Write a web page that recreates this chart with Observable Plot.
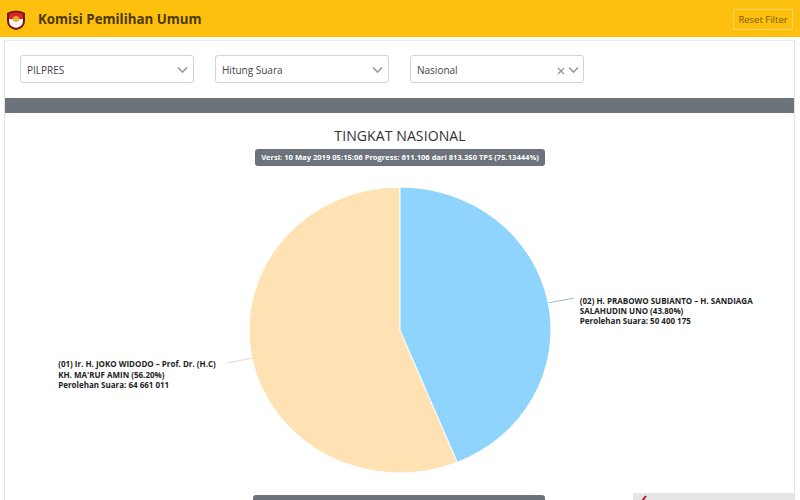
<!DOCTYPE html>
<html>
<head>
<meta charset="utf-8">
<script src="https://cdn.jsdelivr.net/npm/d3@7"></script>
<script src="https://cdn.jsdelivr.net/npm/@observablehq/plot@0.6"></script>
<style>
  html, body { margin: 0; padding: 0; background: #fff; }
  body { width: 800px; height: 500px; overflow: hidden; position: relative; font-family: "Open Sans", sans-serif; }
  .abs { position: absolute; }
  #header { left: 0; top: 0; width: 800px; height: 37px; background: #fdc00f; }
  #brand { left: 38px; top: 10px; font-size: 13.3px; font-weight: 700; color: #4a3900; }
  #reset { left: 733px; top: 9px; width: 60px; height: 21px; border: 1px solid #fdd666; border-radius: 2px; box-sizing: border-box;
           font-size: 9.5px; color: #7a5c00; text-align: center; line-height: 19px; }
  .sel { top: 55px; height: 28px; width: 174px; border: 1px solid #d3d3d3; border-radius: 3px; box-sizing: border-box; background: #fff; }
  .sel span { position: absolute; left: 6px; top: 7px; font-size: 10px; color: #444; }
  .sel svg { position: absolute; top: 10px; }
  #panelL { left: 4px; top: 40px; width: 1px; height: 460px; background: #e2e2e2; }
  #panelR { left: 794px; top: 40px; width: 1px; height: 460px; background: #e2e2e2; }
  #topline { left: 4px; top: 40px; width: 791px; height: 1px; background: #ececec; }
  #bar { left: 5px; top: 98px; width: 789px; height: 15px; background: #6c737b; }
  #title { left: 0; top: 126px; width: 800px; text-align: center; font-size: 14px; color: #333; letter-spacing: 0.1px; }
  #pill { left: 255px; top: 149px; width: 290px; height: 17px; background: #6c737a; border-radius: 3px; color: #fff;
          font-size: 7.6px; font-weight: 700; text-align: center; line-height: 17px; white-space: nowrap; }
  #chart { left: 0; top: 113px; }
  #bottombar { left: 253px; top: 495px; width: 292px; height: 10px; background: #6c737b; border-radius: 3px; }
  #bottombox { left: 633px; top: 493px; width: 161px; height: 10px; background: #e6e6e6; }
</style>
</head>
<body>
<div id="header" class="abs"></div>
<svg class="abs" style="left:5px;top:8px" width="22" height="23" viewBox="0 0 22 23">
  <path d="M2 5 Q11 0 20 5 L20 13 Q20 20 11 22 Q2 20 2 13 Z" fill="#7a1010"/>
  <path d="M4 6 Q11 2.5 18 6 L18 11 L4 11 Z" fill="#d42a2a"/>
  <path d="M4 11 L18 11 L18 13 Q18 18.5 11 20 Q4 18.5 4 13 Z" fill="#f4f4f4"/>
  <circle cx="11" cy="11" r="3" fill="#e8b020"/>
</svg>
<div id="brand" class="abs">Komisi Pemilihan Umum</div>
<div id="reset" class="abs">Reset Filter</div>
<div id="topline" class="abs"></div>
<div id="panelL" class="abs"></div>
<div id="panelR" class="abs"></div>

<div class="abs sel" style="left:20px"><span>PILPRES</span>
  <svg style="left:156px" width="11" height="8"><polyline points="1,1.5 5.5,6 10,1.5" fill="none" stroke="#999" stroke-width="1.6"/></svg></div>
<div class="abs sel" style="left:215px"><span>Hitung Suara</span>
  <svg style="left:156px" width="11" height="8"><polyline points="1,1.5 5.5,6 10,1.5" fill="none" stroke="#999" stroke-width="1.6"/></svg></div>
<div class="abs sel" style="left:410px"><span>Nasional</span>
  <svg style="left:146px;top:11px" width="8" height="8"><path d="M1,1 L7,7 M7,1 L1,7" stroke="#999" stroke-width="1.4"/></svg>
  <svg style="left:157px" width="11" height="8"><polyline points="1,1.5 5.5,6 10,1.5" fill="none" stroke="#999" stroke-width="1.6"/></svg></div>

<div id="bar" class="abs"></div>
<div id="title" class="abs">TINGKAT NASIONAL</div>
<div id="pill" class="abs">Versi: 10 May 2019 05:15:06 Progress: 611.106 dari 813.350 TPS (75.13444%)</div>
<div id="chart" class="abs"></div>
<div id="bottombar" class="abs"></div>
<div id="bottombox" class="abs"><svg width="20" height="8" style="position:absolute;left:6px;top:1px"><path d="M3,7 L7,2" stroke="#b0202a" stroke-width="2"/></svg></div>

<script>
// ---- data ----
const numbers = ["01", "02"];
const candidates = [
  "(01) Ir. H. JOKO WIDODO – Prof. Dr. (H.C)\nKH. MA'RUF AMIN",
  "(02) H. PRABOWO SUBIANTO – H. SANDIAGA\nSALAHUDIN UNO"
];
const votes = [64661011, 50400175];
const percents = [56.20, 43.80];
const colors = ["#fee2b3", "#8fd4fd"];

const fmtVotes = v => d3.format(",")(v).replace(/,/g, " ");
const rows = numbers.map((no, i) => ({
  no, name: candidates[i], votes: votes[i], pct: percents[i], color: colors[i],
  label: `${candidates[i]} (${percents[i].toFixed(2)}%)\nPerolehan Suara: ${fmtVotes(votes[i])}`
}));

// pie layout: (02) starts at 12 o'clock, clockwise
const arcs = d3.pie().value(d => d.votes).sort((a, b) => d3.descending(a.no, b.no))(rows);
const R0 = 1, R1 = 1.17;
const leaders = arcs.map(a => {
  const m = (a.startAngle + a.endAngle) / 2;
  return {
    ...a.data,
    x1: Math.sin(m) * R0, y1: Math.cos(m) * R0,
    x2: Math.sin(m) * R1, y2: Math.cos(m) * R1,
    right: Math.sin(m) > 0
  };
});

function pieMark(index, scales) {
  const cx = scales.x(0), cy = scales.y(0);
  const rx = scales.x(1) - cx, ry = cy - scales.y(1);
  const g = d3.create("svg:g").attr("transform", `translate(${cx},${cy}) scale(1,${ry / rx})`);
  g.selectAll("path").data(arcs).join("path")
    .attr("d", d3.arc().innerRadius(0).outerRadius(rx))
    .attr("fill", d => d.data.color)
    .attr("stroke", "#fff")
    .attr("stroke-width", 1)
    .attr("vector-effect", "non-scaling-stroke");
  return g.node();
}

const textOpts = {
  x: "x2", y: "y2", text: "label", textAnchor: "start", lineAnchor: "top",
  fontSize: 8, fontWeight: "bold", fill: "#222", fontFamily: "Open Sans",
  lineHeight: 1.3
};

const plot = Plot.plot({
  width: 800, height: 380,
  marginTop: 0, marginRight: 0, marginBottom: 0, marginLeft: 0,
  style: { background: "transparent", overflow: "visible" },
  x: { domain: [-1, 1], range: [249, 551], axis: null },
  y: { domain: [-1, 1], range: [360, 74], axis: null },
  marks: [
    pieMark,
    Plot.link(leaders, { x1: "x1", y1: "y1", x2: "x2", y2: "y2", stroke: d => d.color === colors[0] ? "#e8dcc4" : "#9fb8c8", strokeWidth: 1 }),
    Plot.text(leaders.filter(d => d.right), { ...textOpts, dx: 6, dy: -2 }),
    Plot.text(leaders.filter(d => !d.right), { ...textOpts, dx: -169, dy: -3 })
  ]
});
document.getElementById("chart").appendChild(plot);
</script>
</body>
</html>
